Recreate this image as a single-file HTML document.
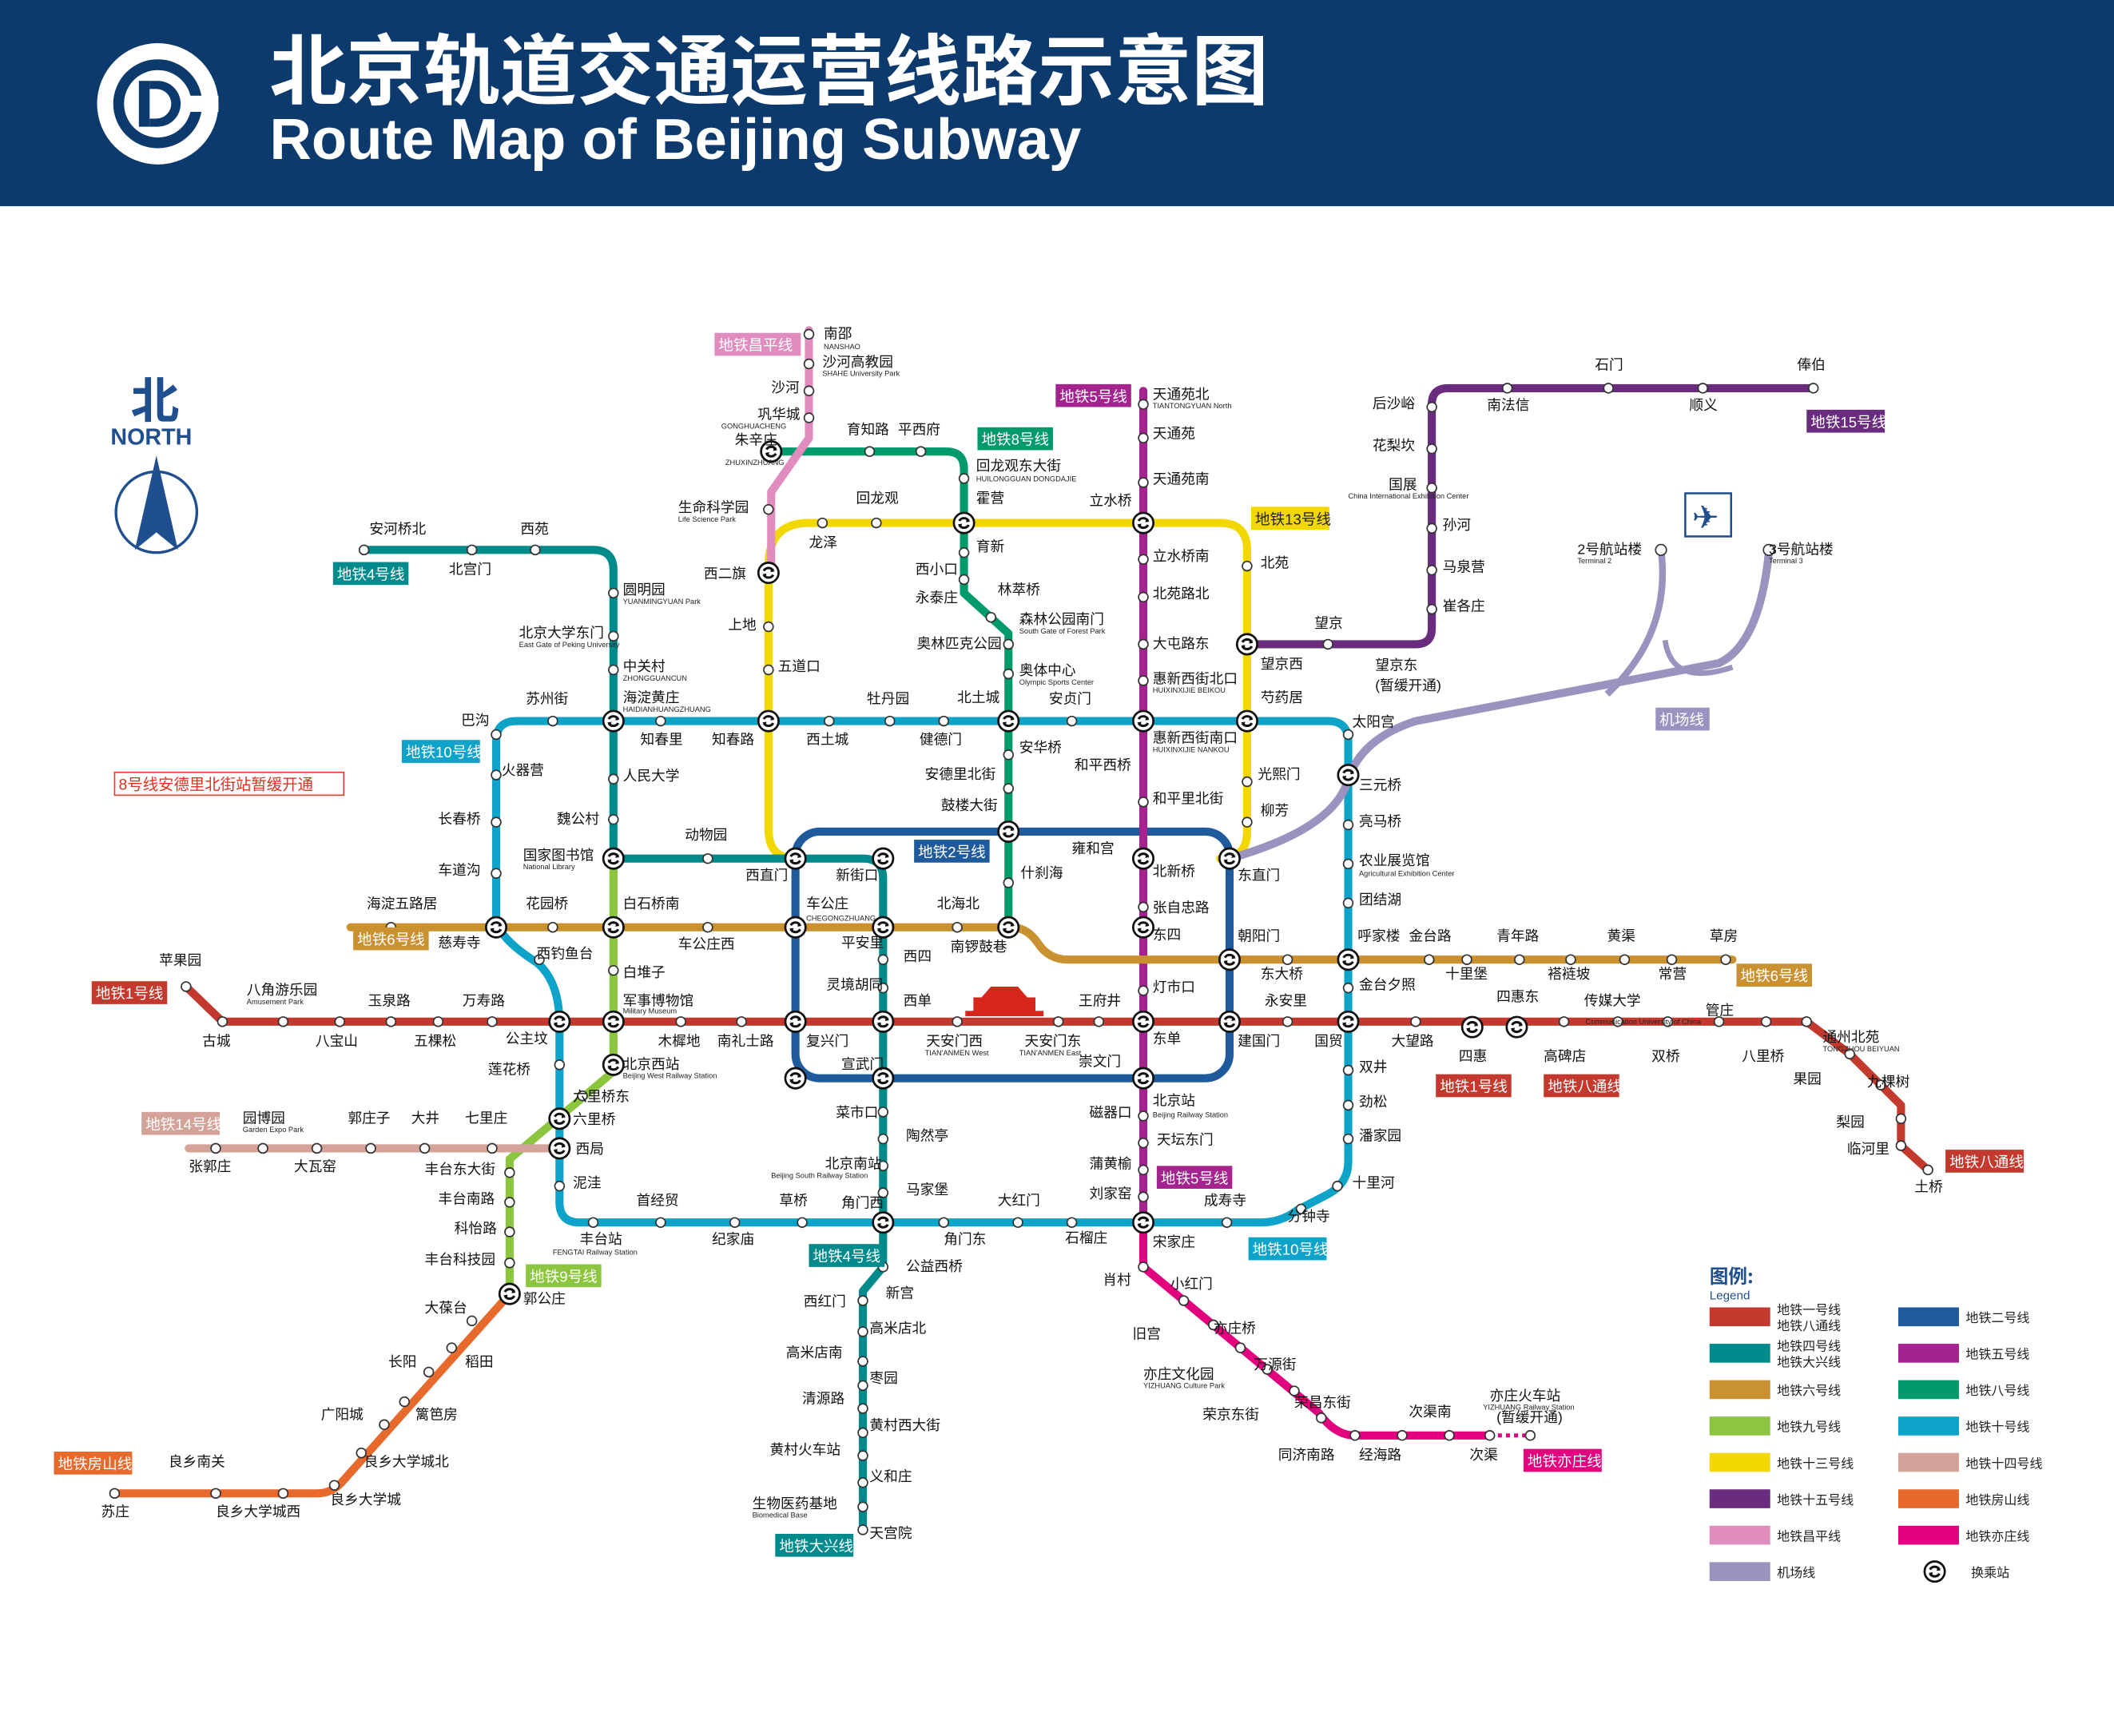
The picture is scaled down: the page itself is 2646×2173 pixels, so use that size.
<!DOCTYPE html>
<html><head><meta charset="utf-8">
<style>
html,body{margin:0;padding:0;background:#fff;}
svg{display:block;}
.t{font-family:"Liberation Sans","Noto Sans CJK SC",sans-serif;font-size:10.5px;fill:#111;}
.p{font-family:"Liberation Sans",sans-serif;font-size:5.5px;fill:#222;}
.b{font-family:"Liberation Sans","Noto Sans CJK SC",sans-serif;font-size:11px;fill:#fff;}
.l{fill:none;stroke-linejoin:round;stroke-linecap:round;stroke-width:6;}
.s{fill:#fff;stroke:#333;stroke-width:1;}
.lg{font-family:"Liberation Sans","Noto Sans CJK SC",sans-serif;font-size:9.5px;fill:#222;}
</style></head><body>
<svg width="2646" height="2173" viewBox="0 0 1568 1288" preserveAspectRatio="none" xmlns="http://www.w3.org/2000/svg">
<defs>
<g id="ic">
<circle r="7.5" fill="#fff" stroke="#111" stroke-width="1.6"/>
<path d="M-3.5,-1.5 A4,4 0 0 1 3.5,-1.5 M3.5,1.5 A4,4 0 0 1 -3.5,1.5" fill="none" stroke="#111" stroke-width="1.8"/>
<path d="M2,-3.5 L4.5,-1 L1.5,-0.5Z M-2,3.5 L-4.5,1 L-1.5,0.5Z" fill="#111"/>
</g>
</defs>
<rect width="1568" height="1288" fill="#fff"/>
<rect x="0" y="0" width="1568" height="153" fill="#0c3a6d"/>
<circle cx="117" cy="77" r="45" fill="#fff"/>
<circle cx="117" cy="77" r="33" fill="#0c3a6d"/>
<circle cx="117" cy="77" r="25" fill="#fff"/>
<rect x="117" y="71" width="45" height="12" fill="#fff"/>
<rect x="103" y="60" width="8" height="34" fill="#0c3a6d"/>
<path d="M111,60 h6 a17,17 0 0 1 0,34 h-6 v-6 h5 a11,11 0 0 0 0,-22 h-5z" fill="#0c3a6d"/>
<text x="200" y="73" font-family="'Liberation Sans','Noto Sans CJK SC',sans-serif" font-size="57" fill="#fff" font-weight="bold">北京轨道交通运营线路示意图</text>
<text x="200" y="118" font-family="'Liberation Sans',sans-serif" font-size="43" fill="#fff" font-weight="bold">Route Map of Beijing Subway</text>

<text x="97" y="310" font-family="'Noto Sans CJK SC',sans-serif" font-size="36" fill="#1f4f8f" font-weight="bold">北</text>
<text x="82" y="330" font-family="'Liberation Sans',sans-serif" font-size="17" fill="#1f4f8f" font-weight="bold">NORTH</text>
<polygon points="116,338 100,408 116,395 132,408" fill="#1f4f8f"/>
<circle cx="116" cy="380" r="30" fill="none" stroke="#1f4f8f" stroke-width="2"/>

<path class="l" stroke="#0ea3c9" d="M383,535 H985 Q1000,535 1000,550 V862 Q1000,878 985,886 L962,898 Q950,907 935,907 H430 Q415,907 415,892 V760 Q415,728 398,714 Q368,695 368,680 V550 Q368,535 383,535 Z"/>
<path class="l" stroke="#f2d700" d="M590,637 Q570,637 570,615 V420 Q570,388 600,388 H905 Q925,388 925,408 V617 Q925,637 905,637 H912"/>
<rect class="l" stroke="#1f5b9c" x="590" y="617" width="322" height="183" rx="18"/>
<path class="l" stroke="#008a8c" d="M270,408 H440 Q455,408 455,423 V637 H640 Q655,637 655,652 V940 L640,958 V1135"/>
<path class="l" stroke="#a5238e" d="M848,290 V907"/>
<path class="l" stroke="#c9912f" d="M260,688 H750 Q762,688 770,700 Q778,712 792,712 H1285"/>
<path class="l" stroke="#009a6b" d="M572,335 H702 Q715,335 715,348 V440 L748,470 V688"/>
<path class="l" stroke="#e08cbf" d="M600,245 V325 L572,365 V425"/>
<path class="l" stroke="#6a2c7e" d="M925,478 H1050 Q1062,478 1062,466 V300 Q1062,288 1074,288 H1345"/>
<path class="l" stroke="#8cc63e" d="M455,637 V795 L378,860 V960"/>
<path class="l" stroke="#d3a39a" d="M140,852 H415"/>
<path class="l" stroke="#e8692c" d="M378,960 L255,1098 Q247,1108 235,1108 H85"/>
<path class="l" stroke="#e3007f" d="M848,907 V940 L978,1048 Q990,1065 1005,1065 H1105"/>
<path d="M1105,1065 H1135" stroke="#e3007f" stroke-width="3" stroke-dasharray="3,3" fill="none"/>
<path class="l" stroke="#9b92c0" d="M912,637 Q990,615 1000,578 Q1010,548 1050,535 L1275,492 Q1305,478 1312,410"/>
<path fill="none" stroke="#9b92c0" stroke-width="5" d="M1232,408 Q1240,470 1192,515"/>
<path fill="none" stroke="#9b92c0" stroke-width="4" d="M1235,475 Q1240,510 1285,495"/>
<path class="l" stroke="#c3392e" d="M138,732 L165,758 H1340 L1372,782 L1410,820 V850 L1430,868"/>

<rect x="1250" y="366" width="34" height="32" fill="#fff" stroke="#1f4f8f" stroke-width="1.5"/>
<text x="1255" y="392" font-size="24" fill="#1f4f8f" font-family="'DejaVu Sans',sans-serif">✈</text>

<rect x="722" y="740" width="46" height="12" fill="#d9261c"/>
<polygon points="728,740 762,740 755,732 735,732" fill="#d9261c"/>
<rect x="716" y="750" width="58" height="4" fill="#d9261c"/>

<g class="s">
<circle cx="600" cy="248" r="3.5"/><circle cx="600" cy="270" r="3.5"/><circle cx="600" cy="290" r="3.5"/><circle cx="600" cy="310" r="3.5"/><circle cx="570" cy="378" r="3.5"/>
<circle cx="645" cy="335" r="3.5"/><circle cx="683" cy="335" r="3.5"/><circle cx="715" cy="355" r="3.5"/><circle cx="715" cy="410" r="3.5"/><circle cx="715" cy="430" r="3.5"/><circle cx="735" cy="458" r="3.5"/><circle cx="748" cy="478" r="3.5"/><circle cx="748" cy="500" r="3.5"/><circle cx="748" cy="560" r="3.5"/><circle cx="748" cy="585" r="3.5"/><circle cx="748" cy="655" r="3.5"/>
<circle cx="570" cy="465" r="3.5"/><circle cx="570" cy="497" r="3.5"/><circle cx="610" cy="388" r="3.5"/><circle cx="650" cy="388" r="3.5"/><circle cx="925" cy="420" r="3.5"/><circle cx="925" cy="580" r="3.5"/><circle cx="925" cy="610" r="3.5"/>
<circle cx="848" cy="300" r="3.5"/><circle cx="848" cy="325" r="3.5"/><circle cx="848" cy="358" r="3.5"/><circle cx="848" cy="415" r="3.5"/><circle cx="848" cy="443" r="3.5"/><circle cx="848" cy="478" r="3.5"/><circle cx="848" cy="505" r="3.5"/><circle cx="848" cy="595" r="3.5"/><circle cx="848" cy="673" r="3.5"/><circle cx="848" cy="735" r="3.5"/><circle cx="848" cy="828" r="3.5"/><circle cx="848" cy="848" r="3.5"/><circle cx="848" cy="868" r="3.5"/><circle cx="848" cy="888" r="3.5"/>
<circle cx="1062" cy="302" r="3.5"/><circle cx="1062" cy="333" r="3.5"/><circle cx="1062" cy="362" r="3.5"/><circle cx="1062" cy="392" r="3.5"/><circle cx="1062" cy="423" r="3.5"/><circle cx="1062" cy="452" r="3.5"/><circle cx="985" cy="478" r="3.5"/><circle cx="1118" cy="288" r="3.5"/><circle cx="1193" cy="288" r="3.5"/><circle cx="1263" cy="288" r="3.5"/><circle cx="1345" cy="288" r="3.5"/>
<circle cx="270" cy="408" r="3.5"/><circle cx="350" cy="408" r="3.5"/><circle cx="397" cy="408" r="3.5"/><circle cx="455" cy="440" r="3.5"/><circle cx="455" cy="472" r="3.5"/><circle cx="455" cy="497" r="3.5"/><circle cx="455" cy="578" r="3.5"/><circle cx="455" cy="608" r="3.5"/><circle cx="525" cy="637" r="3.5"/><circle cx="655" cy="712" r="3.5"/><circle cx="655" cy="733" r="3.5"/><circle cx="655" cy="825" r="3.5"/><circle cx="655" cy="845" r="3.5"/><circle cx="655" cy="865" r="3.5"/><circle cx="655" cy="885" r="3.5"/><circle cx="655" cy="940" r="3.5"/><circle cx="640" cy="965" r="3.5"/><circle cx="640" cy="988" r="3.5"/><circle cx="640" cy="1010" r="3.5"/><circle cx="640" cy="1028" r="3.5"/><circle cx="640" cy="1045" r="3.5"/><circle cx="640" cy="1063" r="3.5"/><circle cx="640" cy="1080" r="3.5"/><circle cx="640" cy="1100" r="3.5"/><circle cx="640" cy="1118" r="3.5"/><circle cx="640" cy="1135" r="3.5"/>
<circle cx="410" cy="535" r="3.5"/><circle cx="490" cy="535" r="3.5"/><circle cx="615" cy="535" r="3.5"/><circle cx="660" cy="535" r="3.5"/><circle cx="700" cy="535" r="3.5"/><circle cx="795" cy="535" r="3.5"/><circle cx="1000" cy="545" r="3.5"/><circle cx="1000" cy="612" r="3.5"/><circle cx="1000" cy="641" r="3.5"/><circle cx="1000" cy="670" r="3.5"/><circle cx="1000" cy="733" r="3.5"/><circle cx="1000" cy="794" r="3.5"/><circle cx="1000" cy="820" r="3.5"/><circle cx="1000" cy="845" r="3.5"/><circle cx="992" cy="880" r="3.5"/><circle cx="965" cy="897" r="3.5"/><circle cx="910" cy="907" r="3.5"/><circle cx="795" cy="907" r="3.5"/><circle cx="755" cy="907" r="3.5"/><circle cx="700" cy="907" r="3.5"/><circle cx="595" cy="907" r="3.5"/><circle cx="545" cy="907" r="3.5"/><circle cx="490" cy="907" r="3.5"/><circle cx="440" cy="907" r="3.5"/><circle cx="415" cy="880" r="3.5"/><circle cx="415" cy="790" r="3.5"/><circle cx="400" cy="712" r="3.5"/><circle cx="368" cy="648" r="3.5"/><circle cx="368" cy="610" r="3.5"/><circle cx="368" cy="575" r="3.5"/><circle cx="368" cy="545" r="3.5"/>
<circle cx="138" cy="732" r="3.5"/><circle cx="165" cy="758" r="3.5"/><circle cx="210" cy="758" r="3.5"/><circle cx="252" cy="758" r="3.5"/><circle cx="290" cy="758" r="3.5"/><circle cx="325" cy="758" r="3.5"/><circle cx="365" cy="758" r="3.5"/><circle cx="505" cy="758" r="3.5"/><circle cx="550" cy="758" r="3.5"/><circle cx="710" cy="758" r="3.5"/><circle cx="785" cy="758" r="3.5"/><circle cx="815" cy="758" r="3.5"/><circle cx="955" cy="758" r="3.5"/><circle cx="1050" cy="758" r="3.5"/><circle cx="1160" cy="758" r="3.5"/><circle cx="1200" cy="758" r="3.5"/><circle cx="1237" cy="758" r="3.5"/><circle cx="1275" cy="758" r="3.5"/><circle cx="1310" cy="758" r="3.5"/><circle cx="1340" cy="758" r="3.5"/><circle cx="1372" cy="782" r="3.5"/><circle cx="1395" cy="805" r="3.5"/><circle cx="1410" cy="830" r="3.5"/><circle cx="1410" cy="850" r="3.5"/><circle cx="1430" cy="868" r="3.5"/>
<circle cx="290" cy="688" r="3.5"/><circle cx="410" cy="688" r="3.5"/><circle cx="525" cy="688" r="3.5"/><circle cx="710" cy="688" r="3.5"/><circle cx="955" cy="712" r="3.5"/><circle cx="1060" cy="712" r="3.5"/><circle cx="1088" cy="712" r="3.5"/><circle cx="1127" cy="712" r="3.5"/><circle cx="1165" cy="712" r="3.5"/><circle cx="1205" cy="712" r="3.5"/><circle cx="1240" cy="712" r="3.5"/><circle cx="1280" cy="712" r="3.5"/>
<circle cx="455" cy="720" r="3.5"/><circle cx="432" cy="813" r="3.5"/><circle cx="378" cy="870" r="3.5"/><circle cx="378" cy="892" r="3.5"/><circle cx="378" cy="914" r="3.5"/><circle cx="378" cy="937" r="3.5"/>
<circle cx="160" cy="852" r="3.5"/><circle cx="195" cy="852" r="3.5"/><circle cx="235" cy="852" r="3.5"/><circle cx="275" cy="852" r="3.5"/><circle cx="315" cy="852" r="3.5"/><circle cx="365" cy="852" r="3.5"/>
<circle cx="350" cy="980" r="3.5"/><circle cx="335" cy="1000" r="3.5"/><circle cx="318" cy="1018" r="3.5"/><circle cx="300" cy="1040" r="3.5"/><circle cx="285" cy="1057" r="3.5"/><circle cx="268" cy="1078" r="3.5"/><circle cx="248" cy="1102" r="3.5"/><circle cx="210" cy="1108" r="3.5"/><circle cx="160" cy="1108" r="3.5"/><circle cx="85" cy="1108" r="3.5"/>
<circle cx="848" cy="940" r="3.5"/><circle cx="878" cy="965" r="3.5"/><circle cx="900" cy="983" r="3.5"/><circle cx="920" cy="1000" r="3.5"/><circle cx="940" cy="1016" r="3.5"/><circle cx="960" cy="1032" r="3.5"/><circle cx="980" cy="1052" r="3.5"/><circle cx="1005" cy="1065" r="3.5"/><circle cx="1040" cy="1065" r="3.5"/><circle cx="1075" cy="1065" r="3.5"/><circle cx="1105" cy="1065" r="3.5"/><circle cx="1135" cy="1065" r="3.5"/>
<circle cx="1232" cy="408" r="4"/><circle cx="1312" cy="408" r="4"/>
</g>

<g>
<use href="#ic" x="572" y="335"/><use href="#ic" x="715" y="388"/><use href="#ic" x="570" y="425"/><use href="#ic" x="848" y="388"/><use href="#ic" x="925" y="478"/><use href="#ic" x="925" y="535"/><use href="#ic" x="848" y="535"/><use href="#ic" x="748" y="535"/><use href="#ic" x="570" y="535"/><use href="#ic" x="455" y="535"/><use href="#ic" x="455" y="637"/><use href="#ic" x="590" y="637"/><use href="#ic" x="912" y="637"/><use href="#ic" x="848" y="637"/><use href="#ic" x="748" y="617"/><use href="#ic" x="655" y="637"/><use href="#ic" x="455" y="688"/><use href="#ic" x="590" y="688"/><use href="#ic" x="655" y="688"/><use href="#ic" x="748" y="688"/><use href="#ic" x="848" y="688"/><use href="#ic" x="912" y="712"/><use href="#ic" x="1000" y="712"/><use href="#ic" x="368" y="688"/><use href="#ic" x="415" y="758"/><use href="#ic" x="455" y="758"/><use href="#ic" x="590" y="758"/><use href="#ic" x="655" y="758"/><use href="#ic" x="848" y="758"/><use href="#ic" x="912" y="758"/><use href="#ic" x="1000" y="758"/><use href="#ic" x="1092" y="762"/><use href="#ic" x="1125" y="762"/><use href="#ic" x="655" y="800"/><use href="#ic" x="848" y="800"/><use href="#ic" x="455" y="790"/><use href="#ic" x="415" y="830"/><use href="#ic" x="415" y="852"/><use href="#ic" x="848" y="907"/><use href="#ic" x="655" y="907"/><use href="#ic" x="378" y="960"/><use href="#ic" x="1000" y="575"/><use href="#ic" x="590" y="800"/>
</g>

<g class="t">
<text x="611" y="251">南邵</text><text x="610" y="272">沙河高教园</text><text x="572" y="291">沙河</text><text x="562" y="311">巩华城</text><text x="545" y="330">朱辛庄</text><text x="503" y="380">生命科学园</text>
<text x="628" y="322">育知路</text><text x="666" y="322">平西府</text><text x="724" y="349">回龙观东大街</text><text x="724" y="373">霍营</text><text x="724" y="409">育新</text><text x="679" y="426">西小口</text><text x="679" y="447">永泰庄</text><text x="740" y="441">林萃桥</text><text x="756" y="463">森林公园南门</text><text x="680" y="481">奥林匹克公园</text><text x="756" y="501">奥体中心</text><text x="710" y="521">北土城</text><text x="756" y="558">安华桥</text><text x="686" y="578">安德里北街</text><text x="698" y="601">鼓楼大街</text><text x="757" y="651">什刹海</text><text x="705" y="706">南锣鼓巷</text>
<text x="522" y="429">西二旗</text><text x="540" y="467">上地</text><text x="577" y="498">五道口</text><text x="600" y="406">龙泽</text><text x="635" y="373">回龙观</text><text x="808" y="375">立水桥</text><text x="935" y="421">北苑</text><text x="935" y="496">望京西</text><text x="935" y="521">芍药居</text><text x="933" y="578">光熙门</text><text x="935" y="605">柳芳</text><text x="918" y="653">东直门</text>
<text x="855" y="296">天通苑北</text><text x="855" y="325">天通苑</text><text x="855" y="359">天通苑南</text><text x="855" y="416">立水桥南</text><text x="855" y="444">北苑路北</text><text x="855" y="481">大屯路东</text><text x="855" y="507">惠新西街北口</text><text x="855" y="551">惠新西街南口</text><text x="797" y="571">和平西桥</text><text x="855" y="596">和平里北街</text><text x="795" y="633">雍和宫</text><text x="855" y="650">北新桥</text><text x="855" y="677">张自忠路</text><text x="855" y="697">东四</text><text x="855" y="736">灯市口</text><text x="855" y="774">东单</text><text x="800" y="791">崇文门</text><text x="808" y="829">磁器口</text><text x="858" y="849">天坛东门</text><text x="808" y="867">蒲黄榆</text><text x="808" y="889">刘家窑</text><text x="855" y="925">宋家庄</text>
<text x="1018" y="303">后沙峪</text><text x="1018" y="334">花梨坎</text><text x="1030" y="363">国展</text><text x="1070" y="393">孙河</text><text x="1070" y="424">马泉营</text><text x="1070" y="453">崔各庄</text><text x="975" y="466">望京</text><text x="1020" y="497">望京东</text><text x="1103" y="304">南法信</text><text x="1183" y="274">石门</text><text x="1253" y="304">顺义</text><text x="1333" y="274">俸伯</text>
<text x="274" y="396">安河桥北</text><text x="386" y="396">西苑</text><text x="333" y="426">北宫门</text><text x="462" y="441">圆明园</text><text x="385" y="473">北京大学东门</text><text x="462" y="498">中关村</text><text x="462" y="521">海淀黄庄</text><text x="462" y="579">人民大学</text><text x="413" y="611">魏公村</text><text x="388" y="638">国家图书馆</text><text x="508" y="623">动物园</text><text x="553" y="653">西直门</text><text x="620" y="653">新街口</text><text x="624" y="703">平安里</text><text x="670" y="713">西四</text><text x="613" y="734">灵境胡同</text><text x="670" y="746">西单</text><text x="624" y="793">宣武门</text><text x="620" y="829">菜市口</text><text x="672" y="846">陶然亭</text><text x="612" y="867">北京南站</text><text x="672" y="886">马家堡</text><text x="624" y="896">角门西</text><text x="672" y="943">公益西桥</text><text x="657" y="963">新宫</text><text x="596" y="969">西红门</text><text x="645" y="989">高米店北</text><text x="583" y="1007">高米店南</text><text x="645" y="1026">枣园</text><text x="595" y="1041">清源路</text><text x="645" y="1061">黄村西大街</text><text x="571" y="1079">黄村火车站</text><text x="645" y="1099">义和庄</text><text x="558" y="1119">生物医药基地</text><text x="645" y="1141">天宫院</text>
<text x="342" y="538">巴沟</text><text x="390" y="522">苏州街</text><text x="475" y="552">知春里</text><text x="528" y="552">知春路</text><text x="598" y="552">西土城</text><text x="643" y="522">牡丹园</text><text x="682" y="552">健德门</text><text x="778" y="522">安贞门</text><text x="1003" y="539">太阳宫</text><text x="1008" y="586">三元桥</text><text x="1008" y="613">亮马桥</text><text x="1008" y="642">农业展览馆</text><text x="1008" y="671">团结湖</text><text x="1008" y="734">金台夕照</text><text x="1008" y="795">双井</text><text x="1008" y="821">劲松</text><text x="1008" y="846">潘家园</text><text x="1003" y="881">十里河</text><text x="955" y="906">分钟寺</text><text x="893" y="894">成寿寺</text><text x="740" y="894">大红门</text><text x="790" y="922">石榴庄</text><text x="700" y="923">角门东</text><text x="528" y="923">纪家庙</text><text x="578" y="894">草桥</text><text x="472" y="894">首经贸</text><text x="430" y="923">丰台站</text><text x="425" y="881">泥洼</text><text x="427" y="856">西局</text><text x="362" y="797">莲花桥</text><text x="375" y="774">公主坟</text><text x="398" y="711">西钓鱼台</text><text x="325" y="703">慈寿寺</text><text x="325" y="649">车道沟</text><text x="325" y="611">长春桥</text><text x="372" y="575">火器营</text>
<text x="118" y="716">苹果园</text><text x="150" y="776">古城</text><text x="183" y="738">八角游乐园</text><text x="234" y="776">八宝山</text><text x="273" y="746">玉泉路</text><text x="307" y="776">五棵松</text><text x="343" y="746">万寿路</text><text x="462" y="746">军事博物馆</text><text x="488" y="776">木樨地</text><text x="532" y="776">南礼士路</text><text x="598" y="776">复兴门</text><text x="687" y="776">天安门西</text><text x="760" y="776">天安门东</text><text x="800" y="746">王府井</text><text x="918" y="776">建国门</text><text x="938" y="746">永安里</text><text x="975" y="776">国贸</text><text x="1032" y="776">大望路</text><text x="1082" y="787">四惠</text><text x="1110" y="743">四惠东</text>
<text x="1145" y="787">高碑店</text><text x="1175" y="746">传媒大学</text><text x="1225" y="787">双桥</text><text x="1265" y="753">管庄</text><text x="1292" y="787">八里桥</text><text x="1352" y="773">通州北苑</text><text x="1330" y="804">果园</text><text x="1385" y="806">九棵树</text><text x="1362" y="836">梨园</text><text x="1370" y="856">临河里</text><text x="1420" y="884">土桥</text>
<text x="272" y="674">海淀五路居</text><text x="390" y="674">花园桥</text><text x="462" y="674">白石桥南</text><text x="503" y="704">车公庄西</text><text x="598" y="674">车公庄</text><text x="695" y="674">北海北</text><text x="918" y="698">朝阳门</text><text x="935" y="726">东大桥</text><text x="1007" y="698">呼家楼</text><text x="1045" y="698">金台路</text><text x="1072" y="726">十里堡</text><text x="1110" y="698">青年路</text><text x="1148" y="726">褡裢坡</text><text x="1192" y="698">黄渠</text><text x="1230" y="726">常营</text><text x="1268" y="698">草房</text>
<text x="462" y="725">白堆子</text><text x="462" y="793">北京西站</text><text x="425" y="817">六里桥东</text><text x="425" y="834">六里桥</text><text x="315" y="871">丰台东大街</text><text x="325" y="893">丰台南路</text><text x="337" y="915">科怡路</text><text x="315" y="938">丰台科技园</text><text x="388" y="967">郭公庄</text>
<text x="180" y="833">园博园</text><text x="258" y="833">郭庄子</text><text x="305" y="833">大井</text><text x="345" y="833">七里庄</text><text x="140" y="869">张郭庄</text><text x="218" y="869">大瓦窑</text>
<text x="315" y="974">大葆台</text><text x="345" y="1014">稻田</text><text x="288" y="1014">长阳</text><text x="308" y="1053">篱笆房</text><text x="238" y="1053">广阳城</text><text x="270" y="1088">良乡大学城北</text><text x="125" y="1088">良乡南关</text><text x="245" y="1116">良乡大学城</text><text x="160" y="1125">良乡大学城西</text><text x="75" y="1125">苏庄</text>
<text x="818" y="953">肖村</text><text x="868" y="956">小红门</text><text x="840" y="993">旧宫</text><text x="900" y="989">亦庄桥</text><text x="848" y="1023">亦庄文化园</text><text x="930" y="1016">万源街</text><text x="892" y="1053">荣京东街</text><text x="960" y="1044">荣昌东街</text><text x="948" y="1083">同济南路</text><text x="1008" y="1083">经海路</text><text x="1045" y="1051">次渠南</text><text x="1090" y="1083">次渠</text><text x="1105" y="1039">亦庄火车站</text>
<text x="1170" y="411">2号航站楼</text><text x="1312" y="411">3号航站楼</text>
</g>
<g class="p">
<text x="611" y="259">NANSHAO</text><text x="610" y="279">SHAHE University Park</text><text x="535" y="318">GONGHUACHENG</text><text x="538" y="345">ZHUXINZHUANG</text><text x="724" y="357">HUILONGGUAN DONGDAJIE</text><text x="855" y="303">TIANTONGYUAN North</text><text x="462" y="448">YUANMINGYUAN Park</text><text x="462" y="505">ZHONGGUANCUN</text><text x="462" y="528">HAIDIANHUANGZHUANG</text><text x="855" y="514">HUIXINXIJIE BEIKOU</text><text x="855" y="558">HUIXINXIJIE NANKOU</text><text x="598" y="683">CHEGONGZHUANG</text><text x="686" y="783">TIAN'ANMEN West</text><text x="756" y="783">TIAN'ANMEN East</text><text x="1352" y="780">TONGZHOU BEIYUAN</text><text x="1176" y="760">Communication University of China</text><text x="1008" y="650">Agricultural Exhibition Center</text><text x="388" y="645">National Library</text><text x="462" y="752">Military Museum</text><text x="462" y="800">Beijing West Railway Station</text><text x="572" y="874">Beijing South Railway Station</text><text x="855" y="829">Beijing Railway Station</text><text x="410" y="931">FENGTAI Railway Station</text><text x="558" y="1126">Biomedical Base</text><text x="1170" y="418">Terminal 2</text><text x="1312" y="418">Terminal 3</text><text x="1100" y="1046">YIZHUANG Railway Station</text><text x="848" y="1030">YIZHUANG Culture Park</text><text x="180" y="840">Garden Expo Park</text><text x="183" y="745">Amusement Park</text><text x="1000" y="370">China International Exhibition Center</text><text x="385" y="480">East Gate of Peking University</text><text x="503" y="387">Life Science Park</text><text x="756" y="508">Olympic Sports Center</text><text x="756" y="470">South Gate of Forest Park</text>
</g>
<text x="855" y="820" class="t">北京站</text>
<text x="1020" y="512" class="t" font-size="9">(暂缓开通)</text>
<text x="1110" y="1055" class="t" font-size="9">(暂缓开通)</text>

<g>
<rect x="530" y="247" width="64" height="17" fill="#e08cbf"/><text class="b" x="533" y="260">地铁昌平线</text>
<rect x="783" y="285" width="56" height="17" fill="#a5238e"/><text class="b" x="786" y="298">地铁5号线</text>
<rect x="725" y="317" width="56" height="17" fill="#009a6b"/><text class="b" x="728" y="330">地铁8号线</text>
<rect x="928" y="376" width="58" height="17" fill="#f2d700"/><text class="b" x="931" y="389" style="fill:#222">地铁13号线</text>
<rect x="1340" y="304" width="58" height="17" fill="#6a2c7e"/><text class="b" x="1343" y="317">地铁15号线</text>
<rect x="247" y="417" width="56" height="17" fill="#008a8c"/><text class="b" x="250" y="430">地铁4号线</text>
<rect x="298" y="549" width="58" height="17" fill="#0ea3c9"/><text class="b" x="301" y="562">地铁10号线</text>
<rect x="678" y="623" width="56" height="17" fill="#1f5b9c"/><text class="b" x="681" y="636">地铁2号线</text>
<rect x="262" y="688" width="56" height="17" fill="#c9912f"/><text class="b" x="265" y="701">地铁6号线</text>
<rect x="1288" y="715" width="56" height="17" fill="#c9912f"/><text class="b" x="1291" y="728">地铁6号线</text>
<rect x="68" y="728" width="56" height="17" fill="#c3392e"/><text class="b" x="71" y="741">地铁1号线</text>
<rect x="1065" y="797" width="56" height="17" fill="#c3392e"/><text class="b" x="1068" y="810">地铁1号线</text>
<rect x="1145" y="797" width="56" height="17" fill="#c3392e"/><text class="b" x="1148" y="810">地铁八通线</text>
<rect x="1443" y="853" width="58" height="17" fill="#c3392e"/><text class="b" x="1446" y="866">地铁八通线</text>
<rect x="105" y="825" width="58" height="17" fill="#d3a39a"/><text class="b" x="108" y="838">地铁14号线</text>
<rect x="390" y="938" width="56" height="17" fill="#8cc63e"/><text class="b" x="393" y="951">地铁9号线</text>
<rect x="600" y="923" width="56" height="17" fill="#008a8c"/><text class="b" x="603" y="936">地铁4号线</text>
<rect x="858" y="865" width="56" height="17" fill="#a5238e"/><text class="b" x="861" y="878">地铁5号线</text>
<rect x="926" y="918" width="58" height="17" fill="#0ea3c9"/><text class="b" x="929" y="931">地铁10号线</text>
<rect x="40" y="1077" width="58" height="17" fill="#e8692c"/><text class="b" x="43" y="1090">地铁房山线</text>
<rect x="575" y="1138" width="58" height="17" fill="#008a8c"/><text class="b" x="578" y="1151">地铁大兴线</text>
<rect x="1130" y="1075" width="58" height="17" fill="#e3007f"/><text class="b" x="1133" y="1088">地铁亦庄线</text>
<rect x="1228" y="525" width="40" height="17" fill="#9b92c0"/><text class="b" x="1231" y="538">机场线</text>
</g>

<rect x="85" y="573" width="170" height="17" fill="#fff" stroke="#e04030" stroke-width="1"/>
<text x="88" y="586" font-family="'Liberation Sans','Noto Sans CJK SC',sans-serif" font-size="11.5" fill="#e03020">8号线安德里北街站暂缓开通</text>

<text x="1268" y="952" font-family="'Noto Sans CJK SC',sans-serif" font-size="14" fill="#1f4f8f" font-weight="bold">图例:</text>
<text x="1268" y="964" font-family="'Liberation Sans',sans-serif" font-size="9" fill="#1f4f8f">Legend</text>
<g>
<rect x="1268" y="970" width="45" height="14" fill="#c3392e"/><text class="lg" x="1318" y="975">地铁一号线</text><text class="lg" x="1318" y="987">地铁八通线</text>
<rect x="1268" y="997" width="45" height="14" fill="#008a8c"/><text class="lg" x="1318" y="1002">地铁四号线</text><text class="lg" x="1318" y="1014">地铁大兴线</text>
<rect x="1268" y="1024" width="45" height="14" fill="#c9912f"/><text class="lg" x="1318" y="1035">地铁六号线</text>
<rect x="1268" y="1051" width="45" height="14" fill="#8cc63e"/><text class="lg" x="1318" y="1062">地铁九号线</text>
<rect x="1268" y="1078" width="45" height="14" fill="#f2d700"/><text class="lg" x="1318" y="1089">地铁十三号线</text>
<rect x="1268" y="1105" width="45" height="14" fill="#6a2c7e"/><text class="lg" x="1318" y="1116">地铁十五号线</text>
<rect x="1268" y="1132" width="45" height="14" fill="#e08cbf"/><text class="lg" x="1318" y="1143">地铁昌平线</text>
<rect x="1268" y="1159" width="45" height="14" fill="#9b92c0"/><text class="lg" x="1318" y="1170">机场线</text>
<rect x="1408" y="970" width="45" height="14" fill="#1f5b9c"/><text class="lg" x="1458" y="981">地铁二号线</text>
<rect x="1408" y="997" width="45" height="14" fill="#a5238e"/><text class="lg" x="1458" y="1008">地铁五号线</text>
<rect x="1408" y="1024" width="45" height="14" fill="#009a6b"/><text class="lg" x="1458" y="1035">地铁八号线</text>
<rect x="1408" y="1051" width="45" height="14" fill="#0ea3c9"/><text class="lg" x="1458" y="1062">地铁十号线</text>
<rect x="1408" y="1078" width="45" height="14" fill="#d3a39a"/><text class="lg" x="1458" y="1089">地铁十四号线</text>
<rect x="1408" y="1105" width="45" height="14" fill="#e8692c"/><text class="lg" x="1458" y="1116">地铁房山线</text>
<rect x="1408" y="1132" width="45" height="14" fill="#e3007f"/><text class="lg" x="1458" y="1143">地铁亦庄线</text>
<use href="#ic" x="1435" y="1166"/><text class="lg" x="1462" y="1170">换乘站</text>
</g>
</svg>
</body></html>
